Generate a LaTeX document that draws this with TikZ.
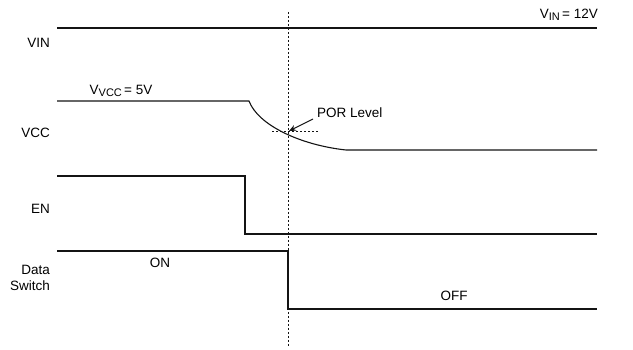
\documentclass[tikz,border=0pt]{standalone}
\usepackage{fontspec}
\setmainfont{Liberation Sans}
\usetikzlibrary{arrows.meta, positioning}
\definecolor{sigline}{RGB}{20, 20, 20}
\newcommand{\lowsub}[1]{\raisebox{-0.35ex}{\fontsize{11}{11}\selectfont #1}}

\begin{document}
\begin{tikzpicture}[x=1pt, y=-1pt,
    font=\fontsize{13.5}{15}\selectfont,
    wave/.style={sigline, line width=1.1pt},
    marker/.style={sigline, line width=0.9pt, dash pattern=on 2pt off 2pt},
    siglabel/.style={anchor=east, align=right, inner sep=0pt}]
  \useasboundingbox (0,0) rectangle (633,350);

  % --- signal names ---
  \node[siglabel] (lvin) at (50, 43) {VIN};
  \node[siglabel] (lvcc) at (50, 133) {VCC};
  \node[siglabel] (len) at (50, 209) {EN};
  \node[siglabel, font=\fontsize{13.5}{16}\selectfont] (lds) at (50, 278) {Data\\Switch};

  % --- VIN ---
  \coordinate (vin0) at (57, 28);
  \coordinate (vin1) at (597, 28);
  \draw[wave] (vin0) -- (vin1);
  \node[anchor=south east, inner sep=1pt] (vinval) at (599, 22) {V\lowsub{IN}\,= 12V};

  % --- VCC ---
  \coordinate (vcc0) at (57, 101);
  \coordinate (vcc1) at (249, 101);
  \coordinate (vcc2) at (346, 150);
  \coordinate (vcc3) at (597, 150);
  \draw[wave] (vcc0) -- (vcc1)
    .. controls (258, 125) and (300, 145) .. (vcc2) -- (vcc3);
  \node[inner sep=0pt] (vccval) at (121, 91) {V\lowsub{VCC}\,= 5V};

  % POR threshold
  \coordinate (por) at (289, 131);
  \coordinate (porl) at (272, 131);
  \coordinate (porr) at (319, 131);
  \draw[marker] (porl) -- (porr);
  \node[anchor=west, inner sep=0pt] (porlbl) at (317, 113) {POR Level};
  \draw[sigline, line width=0.9pt, -{Stealth[length=7pt, width=6pt]}]
    (313, 119) -- (por);

  % --- EN ---
  \coordinate (en0) at (57, 176);
  \coordinate (en1) at (245, 176);
  \coordinate (en2) at (245, 234);
  \coordinate (en3) at (597, 234);
  \draw[wave] (en0) -- (en1) -- (en2) -- (en3);

  % --- Data Switch ---
  \coordinate (ds0) at (57, 251);
  \coordinate (ds1) at (288, 251);
  \coordinate (ds2) at (288, 309);
  \coordinate (ds3) at (597, 309);
  \draw[wave] (ds0) -- (ds1) -- (ds2) -- (ds3);
  \node[inner sep=0pt] (on) at (160, 263) {ON};
  \node[inner sep=0pt] (off) at (454, 296) {OFF};

  % time marker
  \coordinate (tm0) at (288, 12);
  \coordinate (tm1) at (288, 346);
  \draw[marker] (tm0) -- (tm1);
\end{tikzpicture}
\end{document}
